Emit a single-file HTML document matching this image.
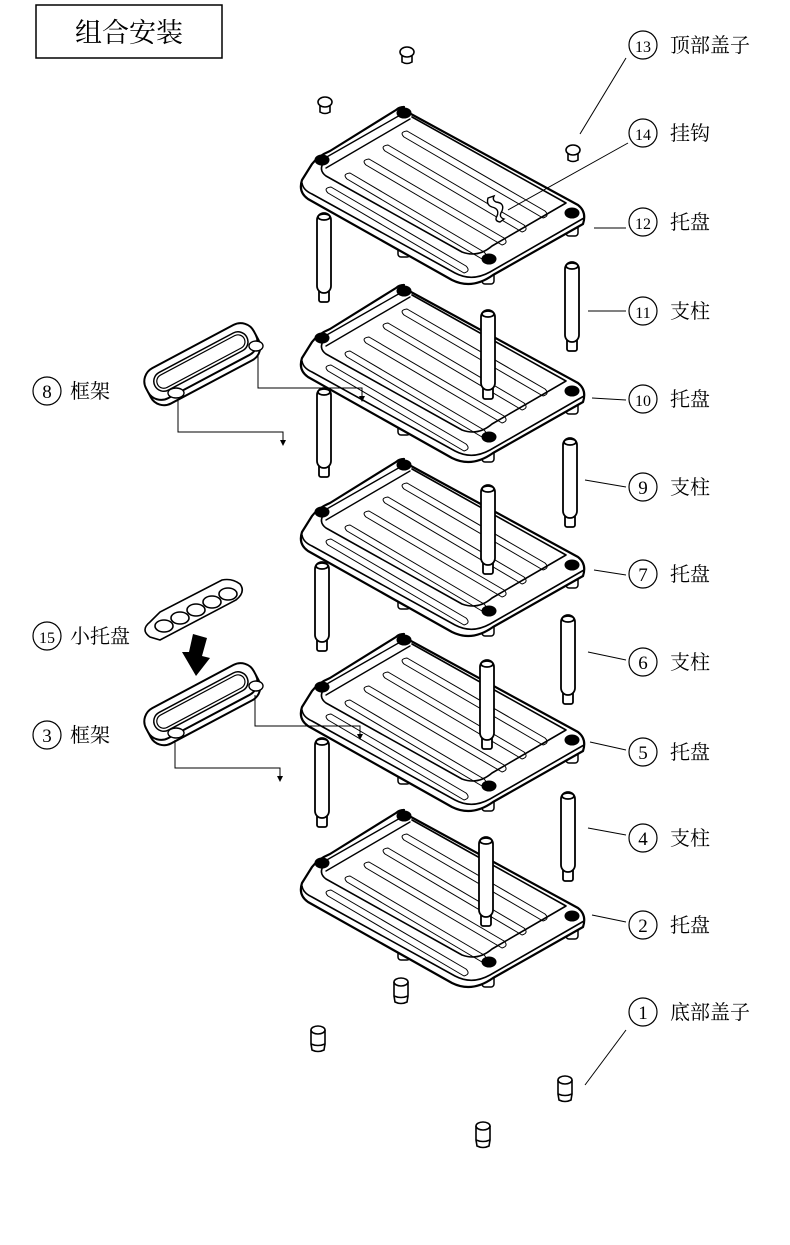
<!DOCTYPE html>
<html><head><meta charset="utf-8"><style>
html,body{margin:0;padding:0;background:#fff;}
svg{display:block;}
text{font-family:"Liberation Serif","Noto Serif CJK SC",serif;fill:#000;}
</style></head><body>
<svg width="790" height="1245" viewBox="0 0 790 1245" xmlns="http://www.w3.org/2000/svg">
<defs>
<g id="tray" fill="none" stroke="#000" stroke-linejoin="round" stroke-linecap="round">
  <rect x="398" y="245" width="12" height="12" rx="3" fill="#fff" stroke-width="1.5"/>
  <rect x="482" y="272" width="12" height="12" rx="3" fill="#fff" stroke-width="1.5"/>
  <rect x="566" y="224" width="12" height="12" rx="3" fill="#fff" stroke-width="1.5"/>
  <path d="M400,108 L578,205 Q587,212 583,224 L493,275 Q472,290 452,280 L308,199 Q298,192 302,180 L312,164 Q318,156 330,151 L396,110 Q399,107 404,107 Z" fill="#fff" stroke-width="2.2"/>
  <path d="M302,183 Q303,190 312,194 L455,273 Q472,282 490,272 L584,218" stroke-width="1.6"/>
  <path d="M412,117 L566,203 L492,246 Q478,258 462,252 L326,176 Q318,170 324,162" stroke-width="1.6"/>
  <path d="M318,162 L402,114 M326,168 L410,119" stroke-width="1.4"/>
  <g stroke-width="1">
    <path d="M407,131 L545,211 Q550,216 543,218 L404,137 Q399,132 407,131 Z"/>
    <path d="M388,145 L524,225 Q529,230 522,232 L385,151 Q380,146 388,145 Z"/>
    <path d="M369,159 L504,238 Q509,243 502,245 L366,165 Q361,160 369,159 Z"/>
    <path d="M350,173 L484,252 Q489,257 482,259 L347,179 Q342,174 350,173 Z"/>
    <path d="M331,187 L466,266 Q471,271 464,273 L328,193 Q323,188 331,187 Z"/>
  </g>
  <ellipse cx="404" cy="113" rx="7" ry="5" fill="#000"/>
  <ellipse cx="322" cy="160" rx="7" ry="5" fill="#000"/>
  <ellipse cx="572" cy="213" rx="7" ry="5" fill="#000"/>
  <ellipse cx="489" cy="259" rx="7" ry="5" fill="#000"/>
</g>
<g id="post" fill="#fff" stroke="#000" stroke-width="1.8">
  <rect x="-5" y="75" width="10" height="14" rx="2"/>
  <rect x="-7" y="0" width="14" height="80" rx="7"/>
  <ellipse cx="0" cy="4" rx="6" ry="3"/>
</g>
<g id="cap" fill="#fff" stroke="#000" stroke-width="1.6">
  <path d="M-5,2 L-5,10 Q0,13 5,10 L5,2"/>
  <ellipse cx="0" cy="0" rx="7" ry="5"/>
</g>
<g id="foot" fill="#fff" stroke="#000" stroke-width="1.6">
  <path d="M-7,0 L-7,14 L-6,20 Q0,23 6,20 L7,14 L7,0"/>
  <path d="M-7,14 Q0,17 7,14"/>
  <ellipse cx="0" cy="0" rx="7" ry="4"/>
</g>
<g id="frame" fill="#fff" stroke="#000" stroke-linejoin="round">
  <g transform="rotate(-28 200 362)">
    <rect x="140" y="351" width="122" height="34" rx="15" stroke-width="2"/>
    <rect x="140" y="345" width="122" height="34" rx="15" stroke-width="2"/>
    <rect x="149" y="352" width="104" height="20" rx="10" stroke-width="1.5"/>
    <rect x="152" y="355" width="98" height="14" rx="7" stroke-width="1.2"/>
  </g>
  <ellipse cx="256" cy="346" rx="7" ry="5" stroke-width="1.4"/>
  <ellipse cx="176" cy="393" rx="8" ry="5" stroke-width="1.4"/>
</g>
</defs>

<rect x="36" y="5" width="186" height="53" fill="none" stroke="#000" stroke-width="1.5"/>
<text x="129" y="42" font-size="27" text-anchor="middle">组合安装</text>

<use href="#tray"/>
<use href="#tray" y="178"/>
<use href="#tray" y="352"/>
<use href="#tray" y="527"/>
<use href="#tray" y="703"/>

<path d="M488,198 Q486,205 492,207 Q500,209 497,216 Q494,221 500,222 L504,219 Q498,217 502,211 Q505,203 496,202 Q492,200 494,196 Z" fill="#fff" stroke="#000" stroke-width="1.4"/>

<use href="#post" x="324" y="213"/>
<use href="#post" x="572" y="262"/>
<use href="#post" x="488" y="310"/>
<use href="#post" x="324" y="388"/>
<use href="#post" x="570" y="438"/>
<use href="#post" x="488" y="485"/>
<use href="#post" x="322" y="562"/>
<use href="#post" x="568" y="615"/>
<use href="#post" x="487" y="660"/>
<use href="#post" x="322" y="738"/>
<use href="#post" x="568" y="792"/>
<use href="#post" x="486" y="837"/>

<use href="#cap" x="407" y="52"/>
<use href="#cap" x="325" y="102"/>
<use href="#cap" x="573" y="150"/>
<use href="#foot" x="401" y="982"/>
<use href="#foot" x="318" y="1030"/>
<use href="#foot" x="565" y="1080"/>
<use href="#foot" x="483" y="1126"/>

<use href="#frame"/>
<use href="#frame" y="340"/>

<g fill="#fff" stroke="#000" stroke-width="1.6">
  <path d="M150,622 Q140,630 150,637 L160,640 L236,600 Q246,592 240,584 Q232,578 222,580 L160,612 Z"/>
  <ellipse cx="164" cy="626" rx="9" ry="6"/>
  <ellipse cx="180" cy="618" rx="9" ry="6"/>
  <ellipse cx="196" cy="610" rx="9" ry="6"/>
  <ellipse cx="212" cy="602" rx="9" ry="6"/>
  <ellipse cx="228" cy="594" rx="9" ry="6"/>
</g>
<path d="M193,634 L207,638 L202,656 L210,658 L196,676 L182,652 L189,652 Z" fill="#000"/>

<g fill="none" stroke="#000" stroke-width="1">
  <path d="M258,355 L258,388 L362,388 L362,398"/>
  <path d="M178,400 L178,432 L283,432 L283,442"/>
  <path d="M255,695 L255,726 L360,726 L360,736"/>
  <path d="M175,740 L175,768 L280,768 L280,778"/>
</g>
<g fill="#000">
  <path d="M359,396 L365,396 L362,402 Z"/>
  <path d="M280,440 L286,440 L283,446 Z"/>
  <path d="M357,734 L363,734 L360,740 Z"/>
  <path d="M277,776 L283,776 L280,782 Z"/>
</g>

<g stroke="#000" stroke-width="1" fill="none">
  <line x1="626" y1="58" x2="580" y2="134"/>
  <line x1="628" y1="143" x2="508" y2="210"/>
  <line x1="626" y1="228" x2="594" y2="228"/>
  <line x1="626" y1="311" x2="588" y2="311"/>
  <line x1="626" y1="400" x2="592" y2="398"/>
  <line x1="626" y1="487" x2="585" y2="480"/>
  <line x1="626" y1="575" x2="594" y2="570"/>
  <line x1="626" y1="660" x2="588" y2="652"/>
  <line x1="626" y1="750" x2="590" y2="742"/>
  <line x1="626" y1="835" x2="588" y2="828"/>
  <line x1="626" y1="922" x2="592" y2="915"/>
  <line x1="626" y1="1030" x2="585" y2="1085"/>
</g>

<g font-size="20">
  <g fill="none" stroke="#000" stroke-width="1.2">
    <circle cx="643" cy="45" r="14"/><circle cx="643" cy="133" r="14"/>
    <circle cx="643" cy="222" r="14"/><circle cx="643" cy="311" r="14"/>
    <circle cx="643" cy="399" r="14"/><circle cx="643" cy="487" r="14"/>
    <circle cx="643" cy="574" r="14"/><circle cx="643" cy="662" r="14"/>
    <circle cx="643" cy="752" r="14"/><circle cx="643" cy="838" r="14"/>
    <circle cx="643" cy="925" r="14"/><circle cx="643" cy="1012" r="14"/>
    <circle cx="47" cy="391" r="14"/><circle cx="47" cy="636" r="14"/>
    <circle cx="47" cy="735" r="14"/>
  </g>
  <g text-anchor="middle" font-size="19">
    <text x="643" y="52" font-size="16">13</text>
    <text x="643" y="140" font-size="16">14</text>
    <text x="643" y="229" font-size="16">12</text>
    <text x="643" y="318" font-size="16">11</text>
    <text x="643" y="406" font-size="16">10</text>
    <text x="643" y="494">9</text>
    <text x="643" y="581">7</text>
    <text x="643" y="669">6</text>
    <text x="643" y="759">5</text>
    <text x="643" y="845">4</text>
    <text x="643" y="932">2</text>
    <text x="643" y="1019">1</text>
    <text x="47" y="398">8</text>
    <text x="47" y="643" font-size="16">15</text>
    <text x="47" y="742">3</text>
  </g>
  <text x="670" y="52">顶部盖子</text>
  <text x="670" y="140">挂钩</text>
  <text x="670" y="229">托盘</text>
  <text x="670" y="318">支柱</text>
  <text x="670" y="406">托盘</text>
  <text x="670" y="494">支柱</text>
  <text x="670" y="581">托盘</text>
  <text x="670" y="669">支柱</text>
  <text x="670" y="759">托盘</text>
  <text x="670" y="845">支柱</text>
  <text x="670" y="932">托盘</text>
  <text x="670" y="1019">底部盖子</text>
  <text x="70" y="398">框架</text>
  <text x="70" y="643">小托盘</text>
  <text x="70" y="742">框架</text>
</g>
</svg>
</body></html>
